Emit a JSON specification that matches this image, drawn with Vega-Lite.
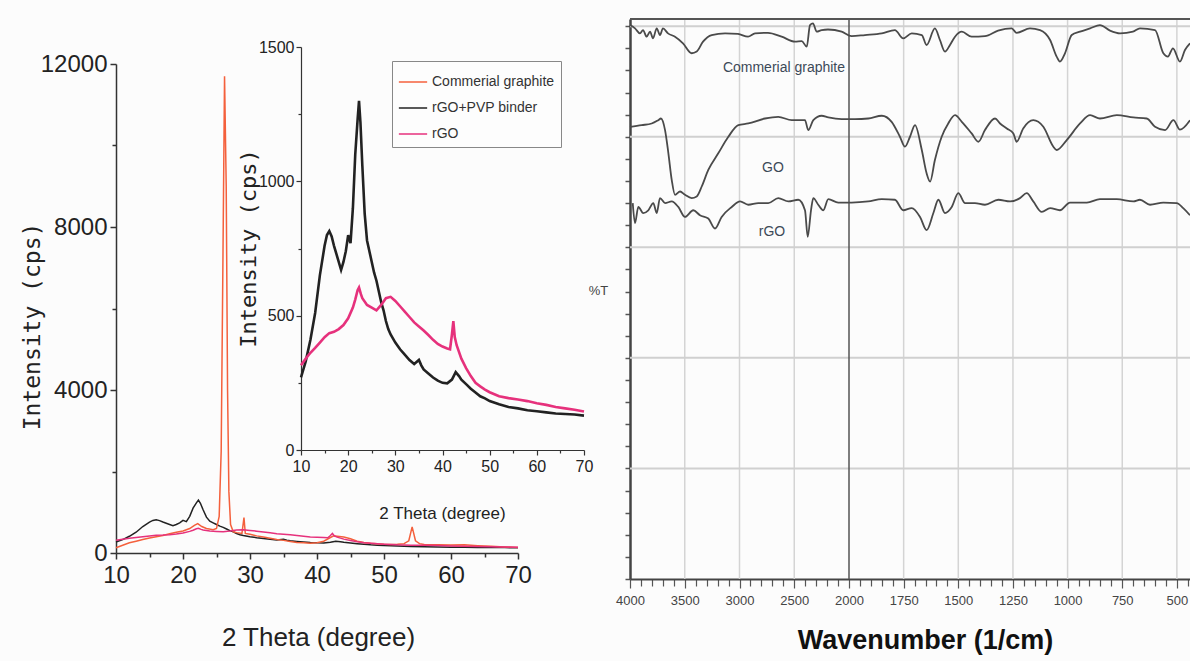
{
  "$schema": "https://vega.github.io/schema/vega-lite/v6.json",
  "width": 1190,
  "height": 661,
  "autosize": {"type": "none"},
  "padding": 0,
  "background": "#fcfcfc",
  "config": {
    "view": {"stroke": null},
    "font": "Liberation Sans",
    "axis": {"grid": false, "domainColor": "#333", "tickColor": "#333", "labelColor": "#222", "titleColor": "#222", "labelOverlap": false, "labelBound": false, "labelFlush": false, "labelFont": "Liberation Sans", "titleFont": "Liberation Sans"}
  },
  "datasets": {
    "xrd": [
      {"sample": "rGO+PVP binder", "theta": 10, "cps": 270},
      {"sample": "rGO+PVP binder", "theta": 11, "cps": 330},
      {"sample": "rGO+PVP binder", "theta": 12, "cps": 410},
      {"sample": "rGO+PVP binder", "theta": 13, "cps": 510},
      {"sample": "rGO+PVP binder", "theta": 14, "cps": 650},
      {"sample": "rGO+PVP binder", "theta": 15, "cps": 760},
      {"sample": "rGO+PVP binder", "theta": 15.5, "cps": 800},
      {"sample": "rGO+PVP binder", "theta": 16, "cps": 815},
      {"sample": "rGO+PVP binder", "theta": 16.5, "cps": 795},
      {"sample": "rGO+PVP binder", "theta": 17, "cps": 760},
      {"sample": "rGO+PVP binder", "theta": 17.5, "cps": 730},
      {"sample": "rGO+PVP binder", "theta": 18, "cps": 700},
      {"sample": "rGO+PVP binder", "theta": 18.5, "cps": 670},
      {"sample": "rGO+PVP binder", "theta": 19, "cps": 700},
      {"sample": "rGO+PVP binder", "theta": 19.5, "cps": 740},
      {"sample": "rGO+PVP binder", "theta": 20, "cps": 800},
      {"sample": "rGO+PVP binder", "theta": 20.5, "cps": 770},
      {"sample": "rGO+PVP binder", "theta": 21, "cps": 900},
      {"sample": "rGO+PVP binder", "theta": 21.5, "cps": 1100},
      {"sample": "rGO+PVP binder", "theta": 22, "cps": 1230},
      {"sample": "rGO+PVP binder", "theta": 22.3, "cps": 1300},
      {"sample": "rGO+PVP binder", "theta": 22.6, "cps": 1220},
      {"sample": "rGO+PVP binder", "theta": 23, "cps": 1060},
      {"sample": "rGO+PVP binder", "theta": 23.5, "cps": 880},
      {"sample": "rGO+PVP binder", "theta": 24, "cps": 780},
      {"sample": "rGO+PVP binder", "theta": 24.5, "cps": 740},
      {"sample": "rGO+PVP binder", "theta": 25, "cps": 700},
      {"sample": "rGO+PVP binder", "theta": 25.5, "cps": 660},
      {"sample": "rGO+PVP binder", "theta": 26, "cps": 630},
      {"sample": "rGO+PVP binder", "theta": 26.5, "cps": 590},
      {"sample": "rGO+PVP binder", "theta": 27, "cps": 550},
      {"sample": "rGO+PVP binder", "theta": 27.5, "cps": 520},
      {"sample": "rGO+PVP binder", "theta": 28, "cps": 480},
      {"sample": "rGO+PVP binder", "theta": 28.5, "cps": 450},
      {"sample": "rGO+PVP binder", "theta": 29, "cps": 430},
      {"sample": "rGO+PVP binder", "theta": 30, "cps": 400},
      {"sample": "rGO+PVP binder", "theta": 31, "cps": 375},
      {"sample": "rGO+PVP binder", "theta": 32, "cps": 355},
      {"sample": "rGO+PVP binder", "theta": 33, "cps": 335},
      {"sample": "rGO+PVP binder", "theta": 34, "cps": 320},
      {"sample": "rGO+PVP binder", "theta": 35, "cps": 335},
      {"sample": "rGO+PVP binder", "theta": 35.5, "cps": 315},
      {"sample": "rGO+PVP binder", "theta": 36, "cps": 300},
      {"sample": "rGO+PVP binder", "theta": 37, "cps": 285},
      {"sample": "rGO+PVP binder", "theta": 38, "cps": 270},
      {"sample": "rGO+PVP binder", "theta": 39, "cps": 258},
      {"sample": "rGO+PVP binder", "theta": 40, "cps": 250},
      {"sample": "rGO+PVP binder", "theta": 41, "cps": 248},
      {"sample": "rGO+PVP binder", "theta": 42, "cps": 262},
      {"sample": "rGO+PVP binder", "theta": 42.8, "cps": 290},
      {"sample": "rGO+PVP binder", "theta": 43.5, "cps": 275},
      {"sample": "rGO+PVP binder", "theta": 44, "cps": 262},
      {"sample": "rGO+PVP binder", "theta": 45, "cps": 245},
      {"sample": "rGO+PVP binder", "theta": 46, "cps": 228},
      {"sample": "rGO+PVP binder", "theta": 47, "cps": 214},
      {"sample": "rGO+PVP binder", "theta": 48, "cps": 200},
      {"sample": "rGO+PVP binder", "theta": 49, "cps": 192},
      {"sample": "rGO+PVP binder", "theta": 50, "cps": 182},
      {"sample": "rGO+PVP binder", "theta": 52, "cps": 170},
      {"sample": "rGO+PVP binder", "theta": 54, "cps": 160},
      {"sample": "rGO+PVP binder", "theta": 56, "cps": 155},
      {"sample": "rGO+PVP binder", "theta": 58, "cps": 148},
      {"sample": "rGO+PVP binder", "theta": 60, "cps": 144},
      {"sample": "rGO+PVP binder", "theta": 62, "cps": 140},
      {"sample": "rGO+PVP binder", "theta": 64, "cps": 136},
      {"sample": "rGO+PVP binder", "theta": 66, "cps": 134},
      {"sample": "rGO+PVP binder", "theta": 68, "cps": 132},
      {"sample": "rGO+PVP binder", "theta": 70, "cps": 128},
      {"sample": "Commerial graphite", "theta": 10, "cps": 130},
      {"sample": "Commerial graphite", "theta": 11, "cps": 190},
      {"sample": "Commerial graphite", "theta": 12, "cps": 250},
      {"sample": "Commerial graphite", "theta": 13, "cps": 290},
      {"sample": "Commerial graphite", "theta": 14, "cps": 330},
      {"sample": "Commerial graphite", "theta": 15, "cps": 370},
      {"sample": "Commerial graphite", "theta": 16, "cps": 400},
      {"sample": "Commerial graphite", "theta": 17, "cps": 430},
      {"sample": "Commerial graphite", "theta": 18, "cps": 470},
      {"sample": "Commerial graphite", "theta": 19, "cps": 510},
      {"sample": "Commerial graphite", "theta": 20, "cps": 540},
      {"sample": "Commerial graphite", "theta": 21, "cps": 600},
      {"sample": "Commerial graphite", "theta": 21.7, "cps": 680},
      {"sample": "Commerial graphite", "theta": 22.2, "cps": 720},
      {"sample": "Commerial graphite", "theta": 22.8, "cps": 650},
      {"sample": "Commerial graphite", "theta": 23.5, "cps": 600},
      {"sample": "Commerial graphite", "theta": 24.5, "cps": 570},
      {"sample": "Commerial graphite", "theta": 25.0, "cps": 600},
      {"sample": "Commerial graphite", "theta": 25.4, "cps": 900},
      {"sample": "Commerial graphite", "theta": 25.7, "cps": 2500},
      {"sample": "Commerial graphite", "theta": 25.95, "cps": 7000},
      {"sample": "Commerial graphite", "theta": 26.2, "cps": 11700},
      {"sample": "Commerial graphite", "theta": 26.45, "cps": 9000},
      {"sample": "Commerial graphite", "theta": 26.65, "cps": 4000},
      {"sample": "Commerial graphite", "theta": 26.85, "cps": 1500},
      {"sample": "Commerial graphite", "theta": 27.1, "cps": 700},
      {"sample": "Commerial graphite", "theta": 27.5, "cps": 520},
      {"sample": "Commerial graphite", "theta": 28, "cps": 500},
      {"sample": "Commerial graphite", "theta": 28.8, "cps": 480},
      {"sample": "Commerial graphite", "theta": 29.1, "cps": 870},
      {"sample": "Commerial graphite", "theta": 29.3, "cps": 480},
      {"sample": "Commerial graphite", "theta": 30, "cps": 460},
      {"sample": "Commerial graphite", "theta": 31, "cps": 420},
      {"sample": "Commerial graphite", "theta": 32, "cps": 390},
      {"sample": "Commerial graphite", "theta": 33, "cps": 360},
      {"sample": "Commerial graphite", "theta": 34, "cps": 330},
      {"sample": "Commerial graphite", "theta": 35, "cps": 310},
      {"sample": "Commerial graphite", "theta": 36, "cps": 280},
      {"sample": "Commerial graphite", "theta": 37, "cps": 260},
      {"sample": "Commerial graphite", "theta": 38, "cps": 250},
      {"sample": "Commerial graphite", "theta": 39, "cps": 240},
      {"sample": "Commerial graphite", "theta": 40, "cps": 250},
      {"sample": "Commerial graphite", "theta": 41, "cps": 290},
      {"sample": "Commerial graphite", "theta": 42, "cps": 380},
      {"sample": "Commerial graphite", "theta": 42.5, "cps": 420},
      {"sample": "Commerial graphite", "theta": 43, "cps": 410},
      {"sample": "Commerial graphite", "theta": 44, "cps": 390},
      {"sample": "Commerial graphite", "theta": 45, "cps": 350},
      {"sample": "Commerial graphite", "theta": 46, "cps": 290},
      {"sample": "Commerial graphite", "theta": 47, "cps": 260},
      {"sample": "Commerial graphite", "theta": 48, "cps": 240},
      {"sample": "Commerial graphite", "theta": 49, "cps": 225},
      {"sample": "Commerial graphite", "theta": 50, "cps": 215},
      {"sample": "Commerial graphite", "theta": 51, "cps": 210},
      {"sample": "Commerial graphite", "theta": 52, "cps": 215},
      {"sample": "Commerial graphite", "theta": 53, "cps": 230},
      {"sample": "Commerial graphite", "theta": 53.7, "cps": 300},
      {"sample": "Commerial graphite", "theta": 54.2, "cps": 640},
      {"sample": "Commerial graphite", "theta": 54.7, "cps": 300},
      {"sample": "Commerial graphite", "theta": 55.3, "cps": 230},
      {"sample": "Commerial graphite", "theta": 56, "cps": 210},
      {"sample": "Commerial graphite", "theta": 58, "cps": 200},
      {"sample": "Commerial graphite", "theta": 60, "cps": 195},
      {"sample": "Commerial graphite", "theta": 62, "cps": 200},
      {"sample": "Commerial graphite", "theta": 64, "cps": 180},
      {"sample": "Commerial graphite", "theta": 66, "cps": 165},
      {"sample": "Commerial graphite", "theta": 68, "cps": 150},
      {"sample": "Commerial graphite", "theta": 70, "cps": 135},
      {"sample": "rGO", "theta": 10, "cps": 315},
      {"sample": "rGO", "theta": 11, "cps": 340},
      {"sample": "rGO", "theta": 12, "cps": 362},
      {"sample": "rGO", "theta": 13, "cps": 380},
      {"sample": "rGO", "theta": 14, "cps": 400},
      {"sample": "rGO", "theta": 15, "cps": 420},
      {"sample": "rGO", "theta": 16, "cps": 435},
      {"sample": "rGO", "theta": 17, "cps": 440},
      {"sample": "rGO", "theta": 18, "cps": 450},
      {"sample": "rGO", "theta": 19, "cps": 465},
      {"sample": "rGO", "theta": 20, "cps": 490},
      {"sample": "rGO", "theta": 21, "cps": 530},
      {"sample": "rGO", "theta": 21.5, "cps": 560},
      {"sample": "rGO", "theta": 22, "cps": 595},
      {"sample": "rGO", "theta": 22.3, "cps": 605},
      {"sample": "rGO", "theta": 22.7, "cps": 580},
      {"sample": "rGO", "theta": 23, "cps": 565},
      {"sample": "rGO", "theta": 24, "cps": 540},
      {"sample": "rGO", "theta": 25, "cps": 530},
      {"sample": "rGO", "theta": 26, "cps": 520},
      {"sample": "rGO", "theta": 27, "cps": 540},
      {"sample": "rGO", "theta": 28, "cps": 565},
      {"sample": "rGO", "theta": 29, "cps": 570},
      {"sample": "rGO", "theta": 30, "cps": 555},
      {"sample": "rGO", "theta": 31, "cps": 535},
      {"sample": "rGO", "theta": 32, "cps": 515},
      {"sample": "rGO", "theta": 33, "cps": 495},
      {"sample": "rGO", "theta": 34, "cps": 475},
      {"sample": "rGO", "theta": 35, "cps": 460},
      {"sample": "rGO", "theta": 36, "cps": 445},
      {"sample": "rGO", "theta": 37, "cps": 428},
      {"sample": "rGO", "theta": 38, "cps": 410},
      {"sample": "rGO", "theta": 39, "cps": 395},
      {"sample": "rGO", "theta": 40, "cps": 385},
      {"sample": "rGO", "theta": 41, "cps": 378},
      {"sample": "rGO", "theta": 41.6, "cps": 375},
      {"sample": "rGO", "theta": 42, "cps": 430},
      {"sample": "rGO", "theta": 42.3, "cps": 480},
      {"sample": "rGO", "theta": 42.6, "cps": 420},
      {"sample": "rGO", "theta": 43, "cps": 390},
      {"sample": "rGO", "theta": 44, "cps": 340},
      {"sample": "rGO", "theta": 45, "cps": 305},
      {"sample": "rGO", "theta": 46, "cps": 275},
      {"sample": "rGO", "theta": 47, "cps": 250},
      {"sample": "rGO", "theta": 48, "cps": 237},
      {"sample": "rGO", "theta": 49, "cps": 225},
      {"sample": "rGO", "theta": 50, "cps": 215},
      {"sample": "rGO", "theta": 52, "cps": 200},
      {"sample": "rGO", "theta": 54, "cps": 193},
      {"sample": "rGO", "theta": 56, "cps": 188},
      {"sample": "rGO", "theta": 58, "cps": 182},
      {"sample": "rGO", "theta": 60, "cps": 174},
      {"sample": "rGO", "theta": 62, "cps": 168},
      {"sample": "rGO", "theta": 64, "cps": 160},
      {"sample": "rGO", "theta": 66, "cps": 155},
      {"sample": "rGO", "theta": 68, "cps": 150},
      {"sample": "rGO", "theta": 70, "cps": 143}
    ],
    "ftir": [
      {"sample": "Commerial graphite", "wn": 4000, "T": 100.2},
      {"sample": "Commerial graphite", "wn": 3954, "T": 99.6},
      {"sample": "Commerial graphite", "wn": 3909, "T": 98.7},
      {"sample": "Commerial graphite", "wn": 3881, "T": 99.3},
      {"sample": "Commerial graphite", "wn": 3848, "T": 98.1},
      {"sample": "Commerial graphite", "wn": 3817, "T": 99.0},
      {"sample": "Commerial graphite", "wn": 3790, "T": 97.8},
      {"sample": "Commerial graphite", "wn": 3756, "T": 99.6},
      {"sample": "Commerial graphite", "wn": 3726, "T": 98.4},
      {"sample": "Commerial graphite", "wn": 3699, "T": 99.6},
      {"sample": "Commerial graphite", "wn": 3653, "T": 98.7},
      {"sample": "Commerial graphite", "wn": 3589, "T": 98.1},
      {"sample": "Commerial graphite", "wn": 3516, "T": 96.9},
      {"sample": "Commerial graphite", "wn": 3437, "T": 95.1},
      {"sample": "Commerial graphite", "wn": 3391, "T": 95.4},
      {"sample": "Commerial graphite", "wn": 3333, "T": 97.2},
      {"sample": "Commerial graphite", "wn": 3254, "T": 98.4},
      {"sample": "Commerial graphite", "wn": 3132, "T": 98.7},
      {"sample": "Commerial graphite", "wn": 3014, "T": 98.6},
      {"sample": "Commerial graphite", "wn": 2922, "T": 98.1},
      {"sample": "Commerial graphite", "wn": 2858, "T": 98.7},
      {"sample": "Commerial graphite", "wn": 2740, "T": 98.8},
      {"sample": "Commerial graphite", "wn": 2615, "T": 98.1},
      {"sample": "Commerial graphite", "wn": 2493, "T": 97.2},
      {"sample": "Commerial graphite", "wn": 2432, "T": 97.3},
      {"sample": "Commerial graphite", "wn": 2386, "T": 96.3},
      {"sample": "Commerial graphite", "wn": 2356, "T": 100.2},
      {"sample": "Commerial graphite", "wn": 2329, "T": 100.5},
      {"sample": "Commerial graphite", "wn": 2295, "T": 99.0},
      {"sample": "Commerial graphite", "wn": 2250, "T": 99.3},
      {"sample": "Commerial graphite", "wn": 2192, "T": 99.4},
      {"sample": "Commerial graphite", "wn": 2067, "T": 99.0},
      {"sample": "Commerial graphite", "wn": 1988, "T": 98.2},
      {"sample": "Commerial graphite", "wn": 1927, "T": 98.4},
      {"sample": "Commerial graphite", "wn": 1850, "T": 98.7},
      {"sample": "Commerial graphite", "wn": 1790, "T": 99.3},
      {"sample": "Commerial graphite", "wn": 1752, "T": 97.8},
      {"sample": "Commerial graphite", "wn": 1713, "T": 98.7},
      {"sample": "Commerial graphite", "wn": 1667, "T": 98.4},
      {"sample": "Commerial graphite", "wn": 1645, "T": 96.6},
      {"sample": "Commerial graphite", "wn": 1607, "T": 99.6},
      {"sample": "Commerial graphite", "wn": 1584, "T": 97.5},
      {"sample": "Commerial graphite", "wn": 1561, "T": 95.4},
      {"sample": "Commerial graphite", "wn": 1538, "T": 96.6},
      {"sample": "Commerial graphite", "wn": 1515, "T": 98.1},
      {"sample": "Commerial graphite", "wn": 1484, "T": 99.0},
      {"sample": "Commerial graphite", "wn": 1439, "T": 98.1},
      {"sample": "Commerial graphite", "wn": 1378, "T": 98.2},
      {"sample": "Commerial graphite", "wn": 1318, "T": 99.2},
      {"sample": "Commerial graphite", "wn": 1256, "T": 99.6},
      {"sample": "Commerial graphite", "wn": 1233, "T": 98.8},
      {"sample": "Commerial graphite", "wn": 1172, "T": 99.6},
      {"sample": "Commerial graphite", "wn": 1126, "T": 99.3},
      {"sample": "Commerial graphite", "wn": 1080, "T": 97.5},
      {"sample": "Commerial graphite", "wn": 1050, "T": 94.5},
      {"sample": "Commerial graphite", "wn": 1035, "T": 93.6},
      {"sample": "Commerial graphite", "wn": 1012, "T": 95.1},
      {"sample": "Commerial graphite", "wn": 981, "T": 98.4},
      {"sample": "Commerial graphite", "wn": 943, "T": 99.0},
      {"sample": "Commerial graphite", "wn": 897, "T": 99.6},
      {"sample": "Commerial graphite", "wn": 852, "T": 100.2},
      {"sample": "Commerial graphite", "wn": 806, "T": 99.2},
      {"sample": "Commerial graphite", "wn": 760, "T": 98.7},
      {"sample": "Commerial graphite", "wn": 701, "T": 99.0},
      {"sample": "Commerial graphite", "wn": 669, "T": 99.6},
      {"sample": "Commerial graphite", "wn": 600, "T": 99.3},
      {"sample": "Commerial graphite", "wn": 562, "T": 95.1},
      {"sample": "Commerial graphite", "wn": 541, "T": 94.5},
      {"sample": "Commerial graphite", "wn": 518, "T": 96.0},
      {"sample": "Commerial graphite", "wn": 486, "T": 93.6},
      {"sample": "Commerial graphite", "wn": 463, "T": 95.7},
      {"sample": "Commerial graphite", "wn": 440, "T": 96.9},
      {"sample": "GO", "wn": 4000, "T": 81.8},
      {"sample": "GO", "wn": 3893, "T": 82.1},
      {"sample": "GO", "wn": 3802, "T": 82.4},
      {"sample": "GO", "wn": 3742, "T": 83.0},
      {"sample": "GO", "wn": 3717, "T": 83.3},
      {"sample": "GO", "wn": 3680, "T": 81.2},
      {"sample": "GO", "wn": 3650, "T": 77.1},
      {"sample": "GO", "wn": 3619, "T": 72.2},
      {"sample": "GO", "wn": 3589, "T": 69.5},
      {"sample": "GO", "wn": 3543, "T": 70.1},
      {"sample": "GO", "wn": 3498, "T": 69.5},
      {"sample": "GO", "wn": 3437, "T": 68.9},
      {"sample": "GO", "wn": 3391, "T": 69.2},
      {"sample": "GO", "wn": 3345, "T": 71.0},
      {"sample": "GO", "wn": 3285, "T": 74.0},
      {"sample": "GO", "wn": 3194, "T": 77.0},
      {"sample": "GO", "wn": 3102, "T": 80.0},
      {"sample": "GO", "wn": 3011, "T": 82.1},
      {"sample": "GO", "wn": 2920, "T": 82.4},
      {"sample": "GO", "wn": 2767, "T": 83.3},
      {"sample": "GO", "wn": 2646, "T": 83.6},
      {"sample": "GO", "wn": 2523, "T": 83.0},
      {"sample": "GO", "wn": 2402, "T": 83.0},
      {"sample": "GO", "wn": 2372, "T": 81.2},
      {"sample": "GO", "wn": 2326, "T": 83.0},
      {"sample": "GO", "wn": 2250, "T": 83.8},
      {"sample": "GO", "wn": 2189, "T": 83.5},
      {"sample": "GO", "wn": 2067, "T": 83.2},
      {"sample": "GO", "wn": 1973, "T": 83.2},
      {"sample": "GO", "wn": 1912, "T": 83.3},
      {"sample": "GO", "wn": 1850, "T": 83.8},
      {"sample": "GO", "wn": 1805, "T": 82.7},
      {"sample": "GO", "wn": 1767, "T": 80.0},
      {"sample": "GO", "wn": 1744, "T": 78.2},
      {"sample": "GO", "wn": 1721, "T": 80.0},
      {"sample": "GO", "wn": 1698, "T": 82.1},
      {"sample": "GO", "wn": 1667, "T": 77.6},
      {"sample": "GO", "wn": 1645, "T": 73.4},
      {"sample": "GO", "wn": 1629, "T": 71.9},
      {"sample": "GO", "wn": 1607, "T": 75.8},
      {"sample": "GO", "wn": 1576, "T": 80.0},
      {"sample": "GO", "wn": 1546, "T": 82.4},
      {"sample": "GO", "wn": 1515, "T": 83.9},
      {"sample": "GO", "wn": 1484, "T": 82.7},
      {"sample": "GO", "wn": 1439, "T": 80.6},
      {"sample": "GO", "wn": 1408, "T": 79.1},
      {"sample": "GO", "wn": 1378, "T": 81.2},
      {"sample": "GO", "wn": 1332, "T": 83.3},
      {"sample": "GO", "wn": 1309, "T": 82.4},
      {"sample": "GO", "wn": 1278, "T": 81.5},
      {"sample": "GO", "wn": 1248, "T": 80.6},
      {"sample": "GO", "wn": 1233, "T": 79.1},
      {"sample": "GO", "wn": 1203, "T": 81.5},
      {"sample": "GO", "wn": 1157, "T": 83.0},
      {"sample": "GO", "wn": 1111, "T": 81.8},
      {"sample": "GO", "wn": 1065, "T": 78.2},
      {"sample": "GO", "wn": 1050, "T": 77.6},
      {"sample": "GO", "wn": 1004, "T": 79.4},
      {"sample": "GO", "wn": 943, "T": 82.4},
      {"sample": "GO", "wn": 897, "T": 83.9},
      {"sample": "GO", "wn": 852, "T": 83.3},
      {"sample": "GO", "wn": 775, "T": 83.9},
      {"sample": "GO", "wn": 699, "T": 83.5},
      {"sample": "GO", "wn": 638, "T": 83.3},
      {"sample": "GO", "wn": 600, "T": 81.8},
      {"sample": "GO", "wn": 554, "T": 81.2},
      {"sample": "GO", "wn": 516, "T": 83.0},
      {"sample": "GO", "wn": 486, "T": 81.3},
      {"sample": "GO", "wn": 440, "T": 83.0},
      {"sample": "rGO", "wn": 3975, "T": 68.0},
      {"sample": "rGO", "wn": 3954, "T": 64.4},
      {"sample": "rGO", "wn": 3924, "T": 67.3},
      {"sample": "rGO", "wn": 3879, "T": 66.2},
      {"sample": "rGO", "wn": 3833, "T": 66.7},
      {"sample": "rGO", "wn": 3787, "T": 68.0},
      {"sample": "rGO", "wn": 3756, "T": 66.2},
      {"sample": "rGO", "wn": 3726, "T": 68.9},
      {"sample": "rGO", "wn": 3680, "T": 68.0},
      {"sample": "rGO", "wn": 3619, "T": 68.3},
      {"sample": "rGO", "wn": 3559, "T": 67.3},
      {"sample": "rGO", "wn": 3498, "T": 65.5},
      {"sample": "rGO", "wn": 3422, "T": 66.7},
      {"sample": "rGO", "wn": 3361, "T": 65.8},
      {"sample": "rGO", "wn": 3285, "T": 65.2},
      {"sample": "rGO", "wn": 3224, "T": 63.4},
      {"sample": "rGO", "wn": 3163, "T": 65.5},
      {"sample": "rGO", "wn": 3071, "T": 67.3},
      {"sample": "rGO", "wn": 2995, "T": 68.3},
      {"sample": "rGO", "wn": 2920, "T": 67.7},
      {"sample": "rGO", "wn": 2828, "T": 68.0},
      {"sample": "rGO", "wn": 2737, "T": 68.0},
      {"sample": "rGO", "wn": 2646, "T": 68.9},
      {"sample": "rGO", "wn": 2554, "T": 68.3},
      {"sample": "rGO", "wn": 2463, "T": 68.6},
      {"sample": "rGO", "wn": 2402, "T": 66.7},
      {"sample": "rGO", "wn": 2377, "T": 61.9},
      {"sample": "rGO", "wn": 2347, "T": 66.7},
      {"sample": "rGO", "wn": 2326, "T": 68.9},
      {"sample": "rGO", "wn": 2281, "T": 67.7},
      {"sample": "rGO", "wn": 2235, "T": 66.7},
      {"sample": "rGO", "wn": 2189, "T": 68.7},
      {"sample": "rGO", "wn": 2098, "T": 68.1},
      {"sample": "rGO", "wn": 1988, "T": 68.1},
      {"sample": "rGO", "wn": 1912, "T": 68.3},
      {"sample": "rGO", "wn": 1850, "T": 68.7},
      {"sample": "rGO", "wn": 1790, "T": 68.6},
      {"sample": "rGO", "wn": 1752, "T": 66.7},
      {"sample": "rGO", "wn": 1713, "T": 67.1},
      {"sample": "rGO", "wn": 1675, "T": 65.5},
      {"sample": "rGO", "wn": 1645, "T": 63.1},
      {"sample": "rGO", "wn": 1614, "T": 66.2},
      {"sample": "rGO", "wn": 1591, "T": 68.6},
      {"sample": "rGO", "wn": 1561, "T": 66.2},
      {"sample": "rGO", "wn": 1530, "T": 67.3},
      {"sample": "rGO", "wn": 1500, "T": 69.8},
      {"sample": "rGO", "wn": 1469, "T": 68.0},
      {"sample": "rGO", "wn": 1424, "T": 68.0},
      {"sample": "rGO", "wn": 1378, "T": 67.7},
      {"sample": "rGO", "wn": 1317, "T": 68.6},
      {"sample": "rGO", "wn": 1263, "T": 68.3},
      {"sample": "rGO", "wn": 1218, "T": 68.9},
      {"sample": "rGO", "wn": 1187, "T": 69.8},
      {"sample": "rGO", "wn": 1157, "T": 68.3},
      {"sample": "rGO", "wn": 1118, "T": 66.4},
      {"sample": "rGO", "wn": 1080, "T": 67.1},
      {"sample": "rGO", "wn": 1035, "T": 66.7},
      {"sample": "rGO", "wn": 989, "T": 68.1},
      {"sample": "rGO", "wn": 912, "T": 68.1},
      {"sample": "rGO", "wn": 852, "T": 68.7},
      {"sample": "rGO", "wn": 775, "T": 68.7},
      {"sample": "rGO", "wn": 699, "T": 68.3},
      {"sample": "rGO", "wn": 669, "T": 68.6},
      {"sample": "rGO", "wn": 623, "T": 67.7},
      {"sample": "rGO", "wn": 562, "T": 68.1},
      {"sample": "rGO", "wn": 501, "T": 68.0},
      {"sample": "rGO", "wn": 471, "T": 67.1},
      {"sample": "rGO", "wn": 440, "T": 65.8}
    ],
    "vgrid": [{"wn": 3500}, {"wn": 3000}, {"wn": 2500}, {"wn": 1750}, {"wn": 1500}, {"wn": 1250}, {"wn": 1000}, {"wn": 750}, {"wn": 500}],
    "hgrid": [{"T": 20}, {"T": 40}, {"T": 60}, {"T": 80}, {"T": 100}],
    "flabels": [
      {"wn": 2594, "T": 92.4, "text": "Commerial graphite"},
      {"wn": 2694, "T": 74.3, "text": "GO"},
      {"wn": 2703, "T": 62.8, "text": "rGO"}
    ]
  },
  "layer": [
    {
      "data": {"name": "vgrid"},
      "mark": {"type": "rule", "color": "#d4d4d4", "strokeWidth": 1.5},
      "encoding": {
        "x": {"field": "wn", "type": "quantitative", "scale": {"domain": [4000, 2000, 440], "range": [630, 849, 1190], "nice": false, "zero": false}, "axis": null},
        "y": {"datum": 0, "type": "quantitative", "scale": {"domain": [0, 101.3], "range": [579, 19], "nice": false, "zero": false}, "axis": null},
        "y2": {"datum": 101.3}
      }
    },
    {
      "data": {"name": "hgrid"},
      "mark": {"type": "rule", "color": "#d0d0d0", "strokeWidth": 2},
      "encoding": {
        "y": {"field": "T", "type": "quantitative", "scale": {"domain": [0, 101.3], "range": [579, 19], "nice": false, "zero": false}, "axis": null},
        "x": {"datum": 4000, "type": "quantitative", "scale": {"domain": [4000, 2000, 440], "range": [630, 849, 1190], "nice": false, "zero": false}, "axis": null},
        "x2": {"datum": 440}
      }
    },
    {
      "data": {"values": [{}]},
      "mark": {"type": "rule", "color": "#555", "strokeWidth": 1.5},
      "encoding": {
        "x": {"datum": 2000, "type": "quantitative", "scale": {"domain": [4000, 2000, 440], "range": [630, 849, 1190], "nice": false, "zero": false}, "axis": null},
        "y": {"datum": 0, "type": "quantitative", "scale": {"domain": [0, 101.3], "range": [579, 19], "nice": false, "zero": false}, "axis": null},
        "y2": {"datum": 101.3}
      }
    },
    {
      "data": {"values": [{}]},
      "mark": {"type": "rule", "color": "#555", "strokeWidth": 2},
      "encoding": {
        "y": {"datum": 101.3, "type": "quantitative", "scale": {"domain": [0, 101.3], "range": [579, 19], "nice": false, "zero": false}, "axis": null},
        "x": {"datum": 4000, "type": "quantitative", "scale": {"domain": [4000, 2000, 440], "range": [630, 849, 1190], "nice": false, "zero": false}, "axis": null},
        "x2": {"datum": 440}
      }
    },
    {
      "data": {"name": "ftir"},
      "mark": {"type": "line", "color": "#4a4a4a", "strokeWidth": 1.8, "interpolate": "monotone"},
      "encoding": {
        "x": {
          "field": "wn", "type": "quantitative",
          "scale": {"domain": [4000, 2000, 440], "range": [630, 849, 1190], "nice": false, "zero": false},
          "axis": {
            "orient": "bottom", "offset": -82,
            "values": [4000, 3900, 3800, 3700, 3600, 3500, 3400, 3300, 3200, 3100, 3000, 2900, 2800, 2700, 2600, 2500, 2400, 2300, 2200, 2100, 2000, 1950, 1900, 1850, 1800, 1750, 1700, 1650, 1600, 1550, 1500, 1450, 1400, 1350, 1300, 1250, 1200, 1150, 1100, 1050, 1000, 950, 900, 850, 800, 750, 700, 650, 600, 550, 500, 450],
            "format": "d", "labelOverlap": false,
            "labelExpr": "(datum.value >= 2000 && datum.value % 500 == 0) || (datum.value < 2000 && datum.value % 250 == 0) ? datum.label : ''",
            "tickSize": {"condition": {"test": "(datum.value >= 2000 && datum.value % 500 == 0) || (datum.value < 2000 && datum.value % 250 == 0)", "value": 9}, "value": 7},
            "domainColor": "#444", "domainWidth": 2, "tickColor": "#555", "tickWidth": 1.2,
            "labelFontSize": 13, "labelColor": "#444", "labelPadding": 6,
            "title": "Wavenumber (1/cm)", "titleFontSize": 27, "titleFontWeight": "bold", "titleColor": "#111",
            "titleX": 925, "titleY": 61, "titleBaseline": "middle"
          }
        },
        "y": {
          "field": "T", "type": "quantitative",
          "scale": {"domain": [0, 101.3], "range": [579, 19], "nice": false, "zero": false},
          "axis": {
            "orient": "left", "offset": -630,
            "values": [0, 4, 8, 12, 16, 20, 24, 28, 32, 36, 40, 44, 48, 52, 56, 60, 64, 68, 72, 76, 80, 84, 88, 92, 96, 100],
            "labels": false, "tickSize": 5,
            "domainColor": "#444", "domainWidth": 2.5, "tickColor": "#555", "tickWidth": 1.5,
            "title": "%T", "titleFontSize": 13, "titleFontWeight": "normal", "titleColor": "#444",
            "titleAngle": 0, "titleX": -32, "titleY": 290, "titleBaseline": "middle"
          }
        },
        "detail": {"field": "sample", "type": "nominal"},
        "order": {"field": "wn", "type": "quantitative", "sort": "descending"}
      }
    },
    {
      "data": {"name": "flabels"},
      "mark": {"type": "text", "font": "Liberation Sans", "fontSize": 14, "color": "#3d4a58", "align": "center", "baseline": "middle"},
      "encoding": {
        "x": {"field": "wn", "type": "quantitative", "scale": {"domain": [4000, 2000, 440], "range": [630, 849, 1190], "nice": false, "zero": false}, "axis": null},
        "y": {"field": "T", "type": "quantitative", "scale": {"domain": [0, 101.3], "range": [579, 19], "nice": false, "zero": false}, "axis": null},
        "text": {"field": "text"}
      }
    },
    {
      "data": {"name": "xrd"},
      "mark": {"type": "line", "strokeWidth": 1.5},
      "encoding": {
        "x": {
          "field": "theta", "type": "quantitative",
          "scale": {"domain": [10, 70], "range": [116, 518], "nice": false, "zero": false},
          "axis": {
            "orient": "bottom", "offset": -108,
            "values": [10, 15, 20, 25, 30, 35, 40, 45, 50, 55, 60, 65, 70],
            "labelExpr": "datum.value % 10 == 0 ? datum.label : ''", "labelOverlap": false,
            "tickSize": {"condition": {"test": "datum.value % 10 == 0", "value": 6}, "value": 4},
            "domainWidth": 1.5, "tickWidth": 1.5,
            "labelFontSize": 24, "labelPadding": 4,
            "title": "2 Theta (degree)", "titleFontSize": 26, "titleFontWeight": "normal",
            "titleX": 318, "titleY": 84, "titleBaseline": "middle"
          }
        },
        "y": {
          "field": "cps", "type": "quantitative",
          "scale": {"domain": [0, 12000], "range": [553, 64], "nice": false, "zero": false},
          "axis": {
            "orient": "left", "offset": -116,
            "values": [0, 2000, 4000, 6000, 8000, 10000, 12000],
            "format": "d", "labelOverlap": false,
            "labelExpr": "datum.value % 4000 == 0 ? datum.label : ''",
            "tickSize": {"condition": {"test": "datum.value % 4000 == 0", "value": 6}, "value": 4},
            "domainWidth": 1.5, "tickWidth": 1.5,
            "labelFontSize": 24, "labelPadding": 3, "labelBaseline": "middle",
            "title": "Intensity (cps)", "titleFont": "DejaVu Sans Mono", "titleFontSize": 23, "titleFontWeight": "normal",
            "titleX": -84, "titleY": 326, "titleBaseline": "middle", "titleAngle": 270
          }
        },
        "color": {
          "field": "sample", "type": "nominal",
          "scale": {"domain": ["Commerial graphite", "rGO+PVP binder", "rGO"], "range": ["#f4603c", "#222222", "#e6317c"]},
          "legend": {
            "orient": "none", "legendX": 392, "legendY": 61, "title": null,
            "strokeColor": "#888", "fillColor": "#fdfdfd", "padding": 6,
            "symbolType": "stroke", "symbolStrokeWidth": 1.5, "symbolSize": 800,
            "labelFont": "Liberation Sans", "labelFontSize": 14, "labelColor": "#333",
            "rowPadding": 4, "labelOffset": 4
          }
        }
      }
    },
    {
      "data": {"name": "xrd"},
      "transform": [{"filter": "datum.sample != 'Commerial graphite'"}],
      "mark": {"type": "line", "strokeWidth": 2.6},
      "encoding": {
        "x": {
          "field": "theta", "type": "quantitative",
          "scale": {"domain": [10, 70], "range": [301, 584], "nice": false, "zero": false},
          "axis": {
            "orient": "bottom", "offset": -211,
            "values": [10, 15, 20, 25, 30, 35, 40, 45, 50, 55, 60, 65, 70],
            "labelExpr": "datum.value % 10 == 0 ? datum.label : ''", "labelOverlap": false,
            "tickSize": {"condition": {"test": "datum.value % 10 == 0", "value": 5}, "value": 3},
            "domainWidth": 1.2, "tickWidth": 1.2,
            "labelFontSize": 16, "labelPadding": 3,
            "title": "2 Theta (degree)", "titleFontSize": 17, "titleFontWeight": "normal",
            "titleX": 442, "titleY": 63, "titleBaseline": "middle"
          }
        },
        "y": {
          "field": "cps", "type": "quantitative",
          "scale": {"domain": [0, 1500], "range": [450, 47], "nice": false, "zero": false},
          "axis": {
            "orient": "left", "offset": -301,
            "values": [0, 250, 500, 750, 1000, 1250, 1500],
            "format": "d", "labelOverlap": false,
            "labelExpr": "datum.value % 500 == 0 ? datum.label : ''",
            "tickSize": {"condition": {"test": "datum.value % 500 == 0", "value": 5}, "value": 3},
            "domainWidth": 1.2, "tickWidth": 1.2,
            "labelFontSize": 16, "labelPadding": 2, "labelBaseline": "middle",
            "title": "Intensity (cps)", "titleFont": "DejaVu Sans Mono", "titleFontSize": 22, "titleFontWeight": "normal",
            "titleX": -53, "titleY": 248, "titleBaseline": "middle", "titleAngle": 270
          }
        },
        "color": {
          "field": "sample", "type": "nominal",
          "scale": {"domain": ["Commerial graphite", "rGO+PVP binder", "rGO"], "range": ["#f4603c", "#222222", "#e6317c"]},
          "legend": {
            "orient": "none", "legendX": 392, "legendY": 61, "title": null,
            "strokeColor": "#888", "fillColor": "#fdfdfd", "padding": 6,
            "symbolType": "stroke", "symbolStrokeWidth": 1.5, "symbolSize": 800,
            "labelFont": "Liberation Sans", "labelFontSize": 14, "labelColor": "#333",
            "rowPadding": 4, "labelOffset": 4
          }
        }
      }
    }
  ],
  "resolve": {"scale": {"x": "independent", "y": "independent"}, "axis": {"x": "independent", "y": "independent"}}
}
